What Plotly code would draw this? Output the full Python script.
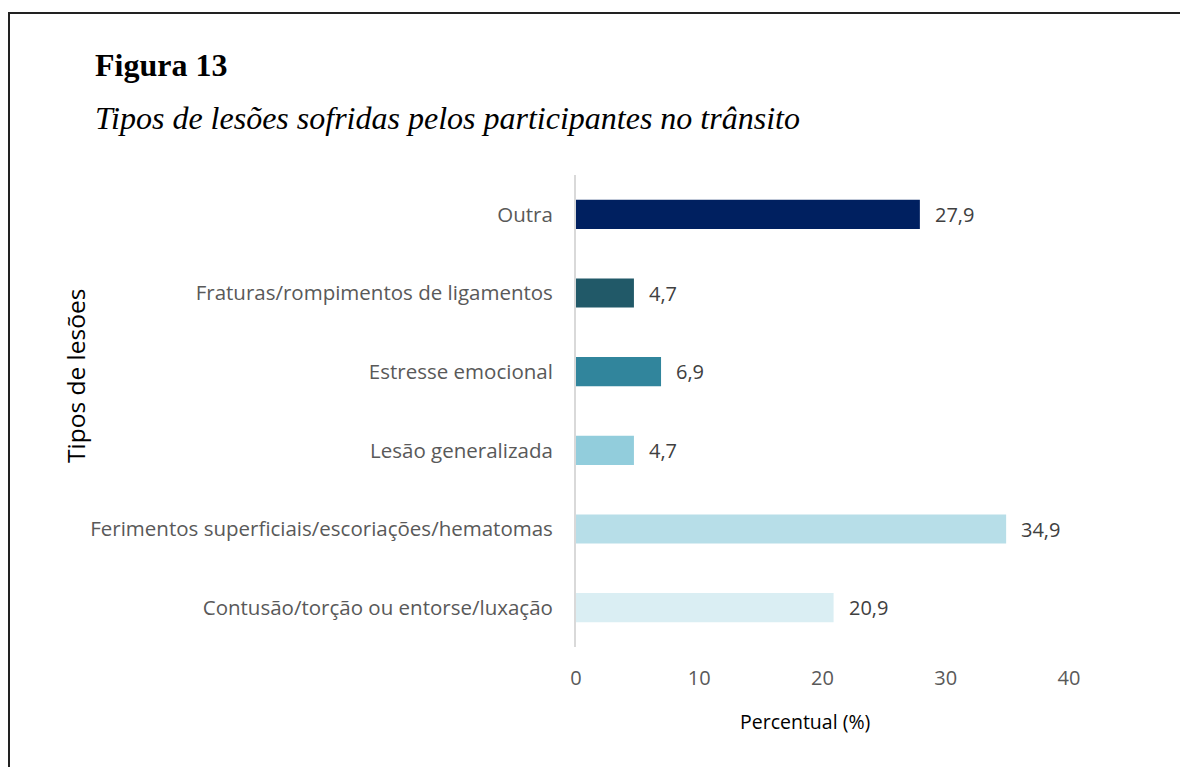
import plotly.graph_objects as go

categories = [
    "Contusão/torção ou entorse/luxação",
    "Ferimentos superficiais/escoriações/hematomas",
    "Lesão generalizada",
    "Estresse emocional",
    "Fraturas/rompimentos de ligamentos",
    "Outra",
]
values = [20.9, 34.9, 4.7, 6.9, 4.7, 27.9]
colors = ["#DAEEF3", "#B7DEE8", "#92CDDC", "#31859C", "#215968", "#002060"]
x_ticks = [0, 10, 20, 30, 40]

L, R, T, B = 576, 111, 175, 120
W, H = 1180, 767
pw, ph = W - L - R, H - T - B

def px(xp):
    return (xp - L) / pw

def py(yp):
    return (H - B - yp) / ph

SANS = "'Open Sans', Lato, sans-serif"
SERIF = "Liberation Serif, Times New Roman, serif"

fig = go.Figure()
fig.add_trace(go.Bar(
    y=categories, x=values, orientation="h",
    marker=dict(color=colors, line=dict(width=0)),
    width=0.37, hoverinfo="skip",
))

for c, v in zip(categories, values):
    fig.add_annotation(
        x=v, y=c, xref="x", yref="y",
        text=f"{v:.1f}".replace(".", ","),
        showarrow=False, xanchor="left", xshift=13,
        font=dict(family=SANS, size=20, color="#404040"),
    )

fig.add_annotation(xref="paper", yref="paper", x=px(93), y=py(65),
                   text="<b>Figura 13</b>", showarrow=False, xanchor="left", yanchor="middle",
                   font=dict(family=SERIF, size=32, color="black"))
fig.add_annotation(xref="paper", yref="paper", x=px(93), y=py(118),
                   text="<i>Tipos de lesões sofridas pelos participantes no trânsito</i>",
                   showarrow=False, xanchor="left", yanchor="middle",
                   font=dict(family=SERIF, size=32, color="black"))
fig.add_annotation(xref="paper", yref="paper", x=px(75), y=py(376),
                   text="Tipos de lesões", textangle=-90, showarrow=False,
                   xanchor="center", yanchor="middle",
                   font=dict(family=SANS, size=24.5, color="black"))
fig.add_annotation(xref="paper", yref="paper", x=px(805), y=py(721),
                   text="Percentual (%)", showarrow=False,
                   xanchor="center", yanchor="middle",
                   font=dict(family=SANS, size=19.5, color="black"))

fig.add_shape(type="rect", xref="paper", yref="paper",
              x0=px(9), x1=px(1200), y0=py(800), y1=py(13),
              line=dict(color="#222222", width=2), fillcolor="rgba(0,0,0,0)", layer="below")

fig.update_layout(
    width=W, height=H,
    margin=dict(l=L, r=R, t=T, b=B),
    paper_bgcolor="white", plot_bgcolor="white",
    showlegend=False,
)
fig.update_xaxes(range=[0, 40], tickvals=x_ticks, showgrid=False, zeroline=False,
                 showline=False, ticks="", ticklabelstandoff=17,
                 tickfont=dict(family=SANS, size=20, color="#595959"))
fig.update_yaxes(range=[-0.5, 5.5], showgrid=False, zeroline=False,
                 showline=True, linecolor="#D9D9D9", linewidth=2,
                 ticks="", ticklabelstandoff=17,
                 tickfont=dict(family=SANS, size=20.5, color="#595959"))

fig.write_html("out.html", config={"displayModeBar": False},
               post_script="document.body.style.margin='0';document.body.style.overflow='hidden';")
